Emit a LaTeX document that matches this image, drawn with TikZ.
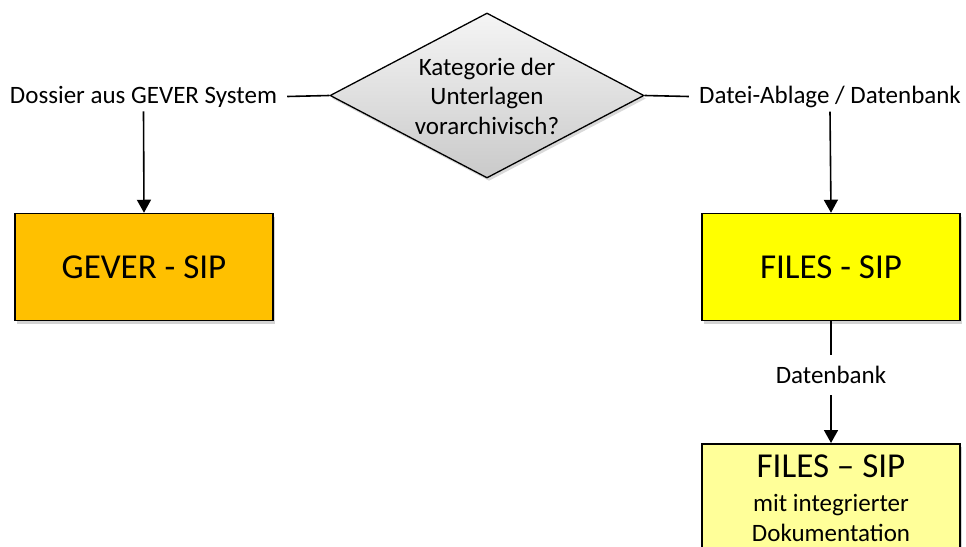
\documentclass[tikz,border=0pt]{standalone}
\usepackage{fontspec}
\setmainfont{Carlito}
\usetikzlibrary{shapes.geometric,arrows.meta,shadows}
\definecolor{geverc}{HTML}{FFC000}
\definecolor{filesc}{HTML}{FFFF00}
\definecolor{filesl}{HTML}{FFFF99}
\begin{document}
\begin{tikzpicture}[x=1pt,y=-1pt,
  lbl/.style={font=\fontsize{25}{30}\selectfont, inner xsep=10pt, inner ysep=4pt},
  boxstyle/.style={draw=black, line width=1.5pt, minimum width=258pt, minimum height=107pt, inner sep=0pt,
     drop shadow={opacity=0.35, shadow xshift=2pt, shadow yshift=-3pt}},
  conn/.style={line width=1.6pt},
  arr/.style={conn, -{Triangle[width=14pt,length=13pt]}}
]
\useasboundingbox (0,0) rectangle (966,546);
\clip (0,0) rectangle (966,546);
% diamond
\node[diamond, draw=black, line width=1.3pt, minimum width=314pt, minimum height=165pt, inner sep=0pt,
      top color=gray!8, bottom color=gray!42,
      drop shadow={opacity=0.3, shadow xshift=2pt, shadow yshift=-3pt}] (dia) at (487,95.5) {};
\node[align=center, font=\fontsize{25}{29.5}\selectfont] (diatext) at (487,96) {Kategorie der\\Unterlagen\\vorarchivisch?};
% labels
\node[lbl] (dleft) at (143.5,96.5) {Dossier aus GEVER System};
\node[lbl] (dright) at (830,96.5) {Datei-Ablage / Datenbank};
% boxes
\node[boxstyle, fill=geverc, font=\fontsize{35}{40}\selectfont] (gever) at (144,267) {GEVER - SIP};
\node[boxstyle, fill=filesc, font=\fontsize{35}{40}\selectfont] (files) at (831,267) {FILES - SIP};
\node[boxstyle, fill=filesl, anchor=north, minimum height=120pt] (filesdoc) at (831,443) {};
\node[anchor=north, inner sep=0pt, align=center, font=\fontsize{25}{30}\selectfont] (filesdoctext) at (831,454.5)
  {{\fontsize{35}{40}\selectfont FILES – SIP}\\[4pt]mit integrierter\\Dokumentation};
\node[lbl, inner ysep=11.5pt] (db) at (831,375) {Datenbank};
% connectors
\draw[conn] (dleft.east) -- (dia.west);
\draw[conn] (dia.east) -- (dright.west);
\draw[arr] (dleft.south) -- (gever.north);
\draw[arr] (dright.south) -- (files.north);
\draw[conn] (files.south) -- (db.north);
\draw[arr] (db.south) -- (filesdoc.north);
\end{tikzpicture}
\end{document}
